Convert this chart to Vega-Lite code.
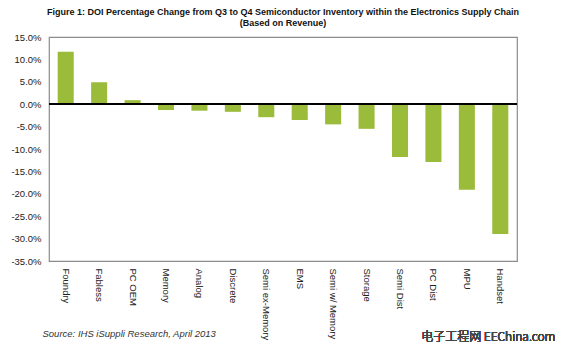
{
  "$schema": "https://vega.github.io/schema/vega-lite/v6.json",
  "width": 468,
  "height": 224,
  "autosize": "none",
  "padding": {"left": 49, "top": 37, "right": 46, "bottom": 90},
  "background": "white",
  "config": {
    "font": "Liberation Sans",
    "view": {"stroke": "#8c8c8c", "strokeWidth": 1.2},
    "axis": {"grid": false, "labelColor": "#222", "labelFont": "Liberation Sans", "labelOverlap": false}
  },
  "title": {
    "text": ["Figure 1: DOI Percentage Change from Q3 to Q4 Semiconductor Inventory within the Electronics Supply Chain", "(Based on Revenue)"],
    "fontSize": 9,
    "fontWeight": "bold",
    "font": "Liberation Sans",
    "color": "#111",
    "lineHeight": 11,
    "anchor": "middle",
    "offset": 4
  },
  "data": {
    "values": [
      {"segment": "Foundry", "change": 11.7},
      {"segment": "Fabless", "change": 4.9},
      {"segment": "PC OEM", "change": 0.9},
      {"segment": "Memory", "change": -1.3},
      {"segment": "Analog", "change": -1.45},
      {"segment": "Discrete", "change": -1.7},
      {"segment": "Semi ex-Memory", "change": -2.9},
      {"segment": "EMS", "change": -3.5},
      {"segment": "Semi w/ Memory", "change": -4.5},
      {"segment": "Storage", "change": -5.5},
      {"segment": "Semi Dist", "change": -11.8},
      {"segment": "PC Dist", "change": -12.9},
      {"segment": "MPU", "change": -19.1},
      {"segment": "Handset", "change": -29.0}
    ]
  },
  "layer": [
    {
      "mark": {"type": "bar", "color": "#9bbb3b"},
      "encoding": {
        "x": {
          "field": "segment",
          "type": "nominal",
          "sort": null,
          "scale": {"paddingInner": 0.52, "paddingOuter": 0.26},
          "axis": {
            "labelAngle": 90,
            "labelAlign": "left",
            "labelBaseline": "middle",
            "labelFontSize": 9.5,
            "labelPadding": 7,
            "labelOverlap": false,
            "ticks": false,
            "domain": false,
            "title": "Source: IHS iSuppli Research, April 2013",
            "titleFontStyle": "italic",
            "titleFontWeight": "normal",
            "titleFontSize": 9.5,
            "titleColor": "#333",
            "titleAnchor": "start",
            "titleAlign": "left",
            "titleBaseline": "middle",
            "titleX": -7,
            "titleY": 72
          }
        },
        "y": {
          "field": "change",
          "type": "quantitative",
          "scale": {"domain": [-35, 15], "nice": false},
          "axis": {
            "values": [-35, -30, -25, -20, -15, -10, -5, 0, 5, 10, 15],
            "tickCount": 20,
            "labelExpr": "replace(format(datum.value, '.1f'), '\u2212', '-') + '%'",
            "labelFontSize": 9.5,
            "labelPadding": 8,
            "labelOverlap": false,
            "ticks": false,
            "domain": false,
            "title": null
          }
        }
      }
    },
    {
      "mark": {"type": "rule", "color": "#000", "strokeWidth": 1.5},
      "encoding": {"y": {"datum": 0}}
    },
    {
      "mark": {"type": "text", "text": "电子工程网  EEChina.com", "font": "Noto Sans CJK SC", "fontWeight": 300, "fontSize": 12, "color": "#444", "align": "center", "baseline": "middle", "dx": -12, "dy": 76},
      "encoding": {"x": {"datum": "Handset"}, "y": {"datum": -35}}
    }
  ]
}
